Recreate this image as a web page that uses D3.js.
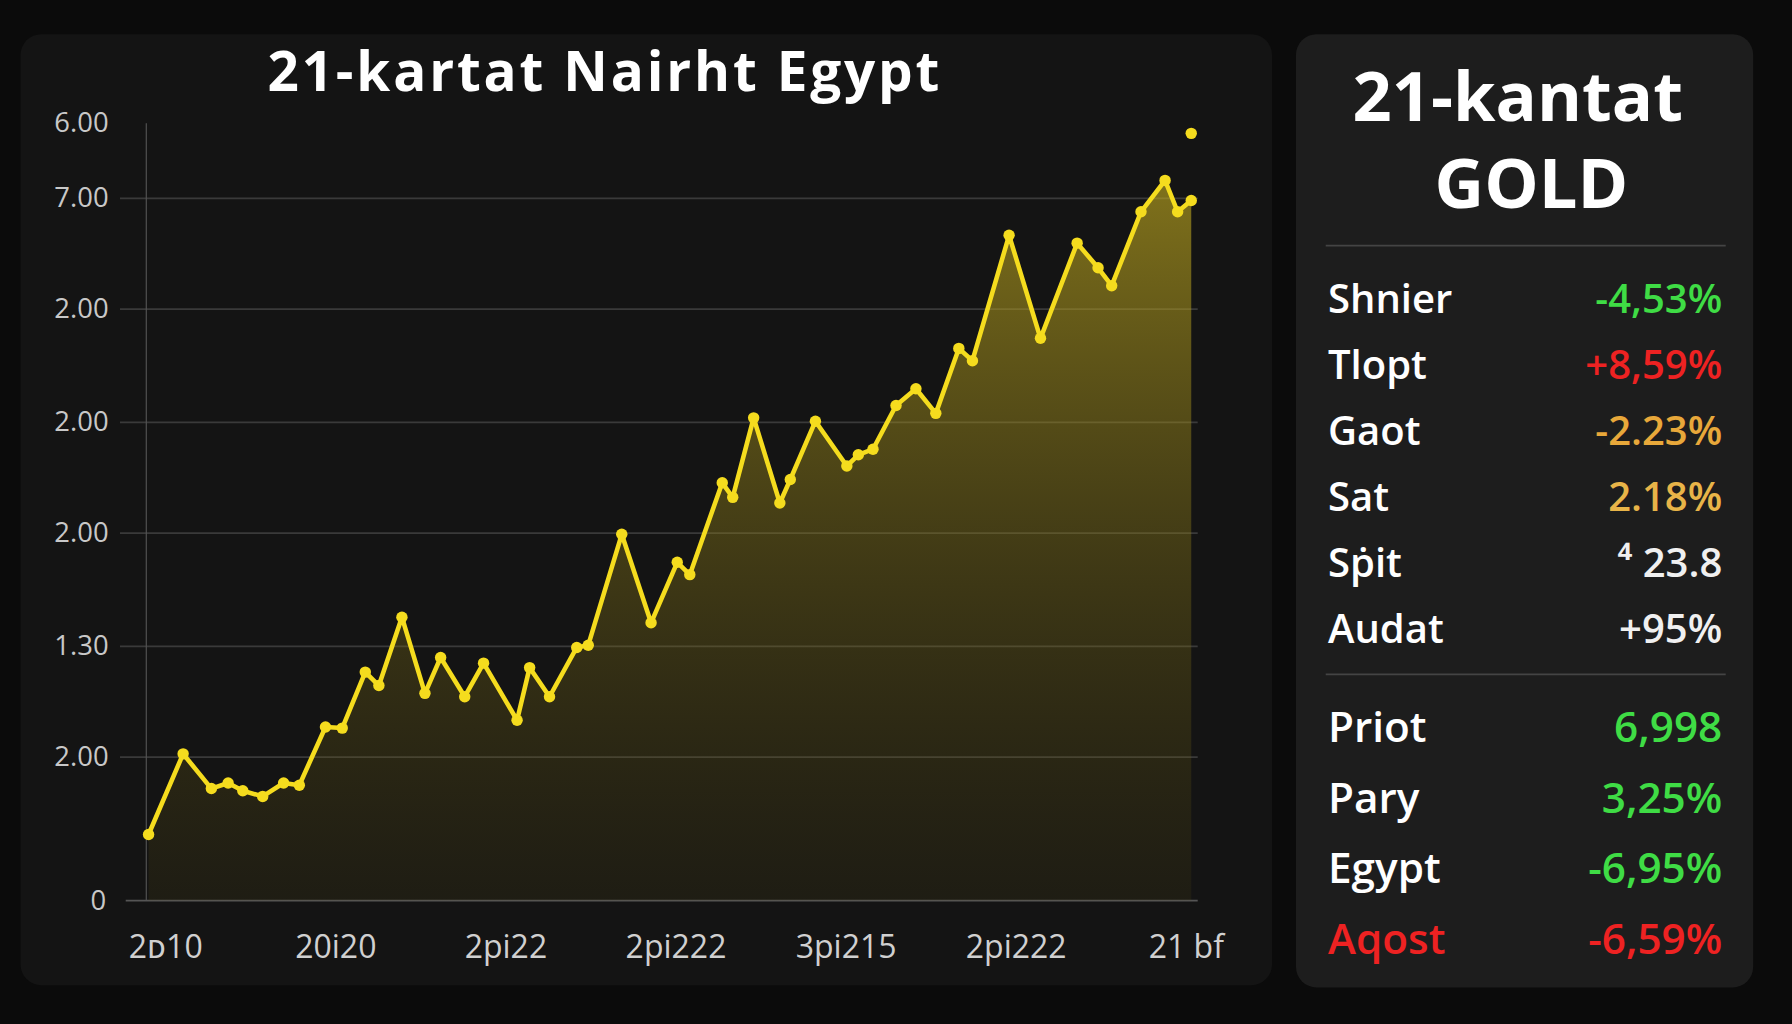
<!DOCTYPE html>
<html><head><meta charset="utf-8">
<script src="https://cdn.jsdelivr.net/npm/d3@7"></script>
<style>body{margin:0;background:#0b0b0b;}svg{display:block;font-family:"Open Sans","Noto Sans",sans-serif;}</style>
</head><body><svg id="c" width="1792" height="1024" viewBox="0 0 1568 896"></svg>
<script>
const xLabels=["2ᴅ10","20i20","2pi22","2pi222","3pi215","2pi222","21 bf"];
const yTickValues=[0,1.28,2.27,3.28,4.27,5.28,6.27,6.94];
const yTickLabels=["0","2.00","1.30","2.00","2.00","2.00","7.00","6.00"];
const t=[0,3.3,6,7.6,9,10.9,12.9,14.4,16.9,18.5,20.7,22,24.2,26.4,27.9,30.2,32,35.2,36.4,38.3,40.9,42,45.2,48,50.5,51.7,54.8,55.8,57.8,60.3,61.3,63.7,66.7,67.8,69.2,71.4,73.3,75.2,77.4,78.7,82.2,85.2,88.7,90.7,92,94.8,97.1,98.3,99.6];
const price=[0.59,1.31,1.0,1.05,0.98,0.93,1.05,1.03,1.55,1.54,2.04,1.92,2.53,1.85,2.17,1.82,2.12,1.61,2.08,1.82,2.26,2.28,3.27,2.48,3.02,2.91,3.73,3.6,4.31,3.55,3.76,4.28,3.88,3.98,4.03,4.42,4.57,4.35,4.93,4.82,5.94,5.02,5.87,5.65,5.49,6.15,6.43,6.15,6.25];
const outlierT=[99.6], outlierP=[6.85];
const statLabels=["Shnier","Tlopt","Gaot","Sat","Sṗit","Audat"];
const statValues=["-4,53%","+8,59%","-2.23%","2.18%","⁴ 23.8","+95%"];
const statColors=["#3fdc45","#ee2222","#e8a83a","#e8b448","#f0f0f0","#f0f0f0"];
const priceLabels=["Priot","Pary","Egypt","Aqost"];
const priceValues=["6,998","3,25%","-6,95%","-6,59%"];
const priceLabelColors=["#fff","#fff","#fff","#ee2222"];
const priceColors=["#3fdc45","#3fdc45","#3fdc45","#ee2222"];

const svg=d3.select("#c");
svg.append("rect").attr("width",1568).attr("height",896).attr("fill","#0b0b0b");
svg.append("rect").attr("x",18).attr("y",30).attr("width",1095).attr("height",832).attr("rx",18).attr("fill","#141414");
svg.append("rect").attr("x",1134).attr("y",30).attr("width",400).attr("height",834).attr("rx",18).attr("fill","#1d1d1d");

const x=d3.scaleLinear().domain([0,100]).range([130,1046]);
const y=d3.scaleLinear().domain([0,1]).range([788,690]);
const xp=d3.scaleLinear().domain([0,xLabels.length-1]).range([145,1038]);

svg.append("text").attr("x",528).attr("y",80).attr("text-anchor","middle").attr("fill","#fff")
 .attr("font-size",48).attr("font-weight","bold").attr("textLength",588).text("21-kartat Nairht Egypt");

const g=svg.append("g");
yTickValues.forEach((v,i)=>{
  if(i>0&&i<yTickValues.length-1) g.append("line").attr("x1",105).attr("x2",1048).attr("y1",y(v)).attr("y2",y(v)).attr("stroke","#3a3a3a").attr("stroke-width",1.5);
  g.append("text").attr("x",i==0?93:95).attr("y",y(v)+8).attr("text-anchor","end").attr("fill","#c8c8c8").attr("font-size",24).text(yTickLabels[i]);
});
g.append("line").attr("x1",128).attr("x2",128).attr("y1",y(6.94)).attr("y2",788).attr("stroke","#555");
g.append("line").attr("x1",110).attr("x2",1048).attr("y1",788).attr("y2",788).attr("stroke","#555").attr("stroke-width",1.5);
xLabels.forEach((l,i)=>g.append("text").attr("x",xp(i)).attr("y",838).attr("text-anchor","middle").attr("fill","#d0d0d0").attr("font-size",28).text(l));

const defs=svg.append("defs");
const gr=defs.append("linearGradient").attr("id","gf").attr("x1",0).attr("x2",0).attr("y1",0).attr("y2",1);
gr.append("stop").attr("offset","0%").attr("stop-color","#c8b020").attr("stop-opacity",0.6);
gr.append("stop").attr("offset","100%").attr("stop-color","#5a4e10").attr("stop-opacity",0.15);
const data=t.map((d,i)=>[d,price[i]]);
g.append("path").datum(data).attr("fill","url(#gf)")
 .attr("d",d3.area().x(d=>x(d[0])).y0(788).y1(d=>y(d[1])));
g.append("path").datum(data).attr("fill","none").attr("stroke","#f5dc1e").attr("stroke-width",4).attr("stroke-linejoin","round")
 .attr("d",d3.line().x(d=>x(d[0])).y(d=>y(d[1])));
g.selectAll(".pt").data(data).join("circle").attr("cx",d=>x(d[0])).attr("cy",d=>y(d[1])).attr("r",5).attr("fill","#f5dc1e");
outlierT.forEach((v,i)=>g.append("circle").attr("cx",x(v)).attr("cy",y(outlierP[i])).attr("r",5).attr("fill","#f5dc1e"));

const r=svg.append("g");
r.append("text").attr("x",1328).attr("y",106).attr("text-anchor","middle").attr("fill","#fff").attr("font-size",60).attr("font-weight","bold").text("21-kantat");
r.append("text").attr("x",1340).attr("y",182).attr("text-anchor","middle").attr("fill","#fff").attr("font-size",60).attr("font-weight","bold").text("GOLD");
[215,590].forEach(yy=>r.append("line").attr("x1",1160).attr("x2",1510).attr("y1",yy).attr("y2",yy).attr("stroke","#444").attr("stroke-width",1.5));
const rowY=d3.scaleLinear().domain([0,statLabels.length-1]).range([262,551]);
statLabels.forEach((l,i)=>{
  r.append("text").attr("x",1162).attr("y",rowY(i)+12).attr("fill","#fff").attr("font-size",35).attr("font-weight",600).text(l);
  r.append("text").attr("x",1507).attr("y",rowY(i)+12).attr("text-anchor","end").attr("fill",statColors[i]).attr("font-size",35).attr("font-weight",600).text(statValues[i]);
});
const rowY2=d3.scaleLinear().domain([0,priceLabels.length-1]).range([637,823]);
priceLabels.forEach((l,i)=>{
  r.append("text").attr("x",1162).attr("y",rowY2(i)+12).attr("fill",priceLabelColors[i]).attr("font-size",37).attr("font-weight",600).text(l);
  r.append("text").attr("x",1507).attr("y",rowY2(i)+12).attr("text-anchor","end").attr("fill",priceColors[i]).attr("font-size",37).attr("font-weight",600).text(priceValues[i]);
});
</script></body></html>
